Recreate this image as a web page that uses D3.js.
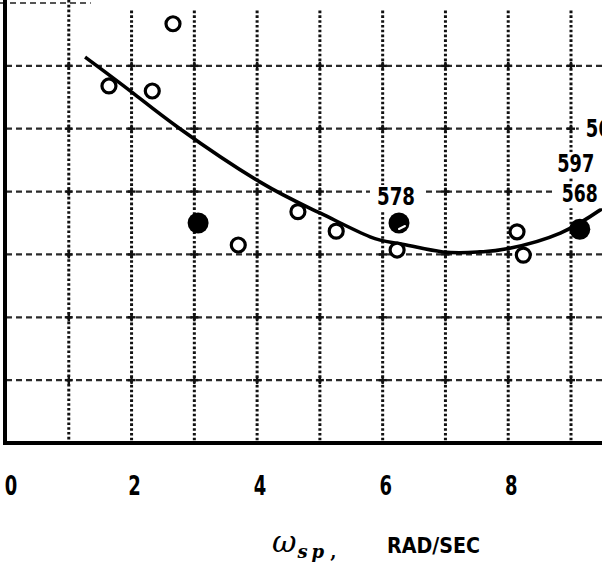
<!DOCTYPE html>
<html>
<head>
<meta charset="utf-8">
<script src="https://cdn.jsdelivr.net/npm/d3@7"></script>
<style>
  html, body { margin: 0; padding: 0; background: #fff; }
  svg { display: block; }
</style>
</head>
<body>
<script>
// ---- data ----
const xTicks = [0, 2, 4, 6, 8];
const xGrid = [1, 2, 3, 4, 5, 6, 7, 8, 9];
const yGrid = [1, 2, 3, 4, 5, 6];
const openX = [1.64, 2.33, 2.66, 3.70, 4.65, 5.26, 6.23, 8.14, 8.24];
const openY = [5.68, 5.60, 6.67, 3.15, 3.68, 3.37, 3.07, 3.36, 2.99];
const filledX = [3.06, 6.26, 9.14];
const filledY = [3.50, 3.50, 3.40];
const curveX = [1.26, 2.02, 2.77, 4.05, 5.00, 5.80, 6.28, 6.96, 7.55, 7.98, 8.83, 9.60];
const curveY = [6.14, 5.57, 5.00, 4.15, 3.66, 3.28, 3.17, 3.04, 3.04, 3.09, 3.34, 3.80];
const labels578 = ["578"];
const labelsLast = ["56", "597", "568"];
const xTitleSymbol = "ω";
const xTitleSub = "sp";
const xTitleUnit = "RAD/SEC";

const W = 602, H = 562;
const x = d3.scaleLinear().domain([0, 9]).range([6, 571]);
const y = d3.scaleLinear().domain([0, 7]).range([443, 3]);

const svg = d3.select("body").append("svg").attr("width", W).attr("height", H);
svg.append("rect").attr("width", W).attr("height", H).attr("fill", "#fff");

const g = svg.append("g");

// horizontal dashed grid
g.selectAll("line.hg").data(yGrid).join("line")
  .attr("x1", x(0)).attr("x2", W)
  .attr("y1", d => y(d)).attr("y2", d => y(d))
  .attr("stroke", "#2a2a2a").attr("stroke-width", 2.2)
  .attr("stroke-dasharray", "6 4");
// partial top line
g.append("line")
  .attr("x1", 0).attr("x2", x(1.35))
  .attr("y1", y(7)).attr("y2", y(7))
  .attr("stroke", "#555").attr("stroke-width", 2)
  .attr("stroke-dasharray", "6 4");

// vertical dotted grid
g.selectAll("line.vg").data(xGrid).join("line")
  .attr("x1", d => x(d)).attr("x2", d => x(d))
  .attr("y1", d => d === 1 ? 0 : y(6.88)).attr("y2", y(0))
  .attr("stroke", "#111").attr("stroke-width", 3)
  .attr("stroke-dasharray", "2.6 2.2");

// crosses at intersections
const inter = [];
xGrid.forEach(a => yGrid.forEach(b => inter.push([a, b])));
const cr = g.selectAll("g.cr").data(inter).join("g")
  .attr("transform", d => `translate(${x(d[0])},${y(d[1])})`);
cr.append("line").attr("x1", -4).attr("x2", 4).attr("stroke", "#111").attr("stroke-width", 2.4);
cr.append("line").attr("y1", -4).attr("y2", 4).attr("stroke", "#111").attr("stroke-width", 2.4);

// axes
g.append("line").attr("x1", 5).attr("x2", 5).attr("y1", 0).attr("y2", y(0) + 2)
  .attr("stroke", "#000").attr("stroke-width", 4);
g.append("line").attr("x1", 3).attr("x2", W).attr("y1", y(0)).attr("y2", y(0))
  .attr("stroke", "#000").attr("stroke-width", 4);

// tick labels
const fontC = "'DejaVu Sans Condensed', 'DejaVu Sans', sans-serif";
g.selectAll("text.tick").data(xTicks).join("text")
  .attr("x", d => x(d) + (d === 0 ? 5 : 3)).attr("y", 495)
  .attr("text-anchor", "middle")
  .attr("font-family", fontC).attr("font-weight", "bold").attr("font-size", 27)
  .attr("textLength", 12.5).attr("lengthAdjust", "spacingAndGlyphs")
  .text(d => d);

// label helper with white backing
function label(txt, cx, base, anchor, len) {
  const t = g.append("text")
    .attr("x", cx).attr("y", base).attr("text-anchor", anchor)
    .attr("font-family", fontC).attr("font-weight", "bold").attr("font-size", 24)
    .attr("textLength", len).attr("lengthAdjust", "spacingAndGlyphs")
    .text(txt);
  const bb = t.node().getBBox();
  g.insert("rect", () => t.node())
    .attr("x", bb.x - 7).attr("y", bb.y + 2).attr("width", bb.width + 14).attr("height", bb.height - 2)
    .attr("fill", "#fff");
}

// curve
const curvePts = curveX.map((v, i) => [v, curveY[i]]);
g.append("path")
  .attr("d", d3.line().x(d => x(d[0])).y(d => y(d[1])).curve(d3.curveNatural)(curvePts))
  .attr("fill", "none").attr("stroke", "#000").attr("stroke-width", 3.6);

// open circles
g.selectAll("circle.op").data(openX.map((v, i) => [v, openY[i]])).join("circle")
  .attr("cx", d => x(d[0])).attr("cy", d => y(d[1])).attr("r", 7)
  .attr("fill", "#fff").attr("stroke", "#000").attr("stroke-width", 3.2);

// filled circles
const fp = filledX.map((v, i) => [v, filledY[i]]);
g.selectAll("circle.fl").data(fp).join("circle")
  .attr("cx", d => x(d[0])).attr("cy", d => y(d[1])).attr("r", 10.5)
  .attr("fill", "#000");
// small white slash on the 578 point
g.append("line")
  .attr("x1", x(fp[1][0]) + 0).attr("y1", y(fp[1][1]) + 6)
  .attr("x2", x(fp[1][0]) + 6).attr("y2", y(fp[1][1]) + 3)
  .attr("stroke", "#fff").attr("stroke-width", 2).attr("stroke-linecap", "round");

// point labels
label(labels578[0], x(fp[1][0]) - 3, y(fp[1][1]) - 18, "middle", 38);
label(labelsLast[0], x(fp[2][0]) + 6, y(fp[2][1]) - 92, "start", 25);
label(labelsLast[1], x(fp[2][0]) - 4, y(fp[2][1]) - 57, "middle", 37);
label(labelsLast[2], x(fp[2][0]), y(fp[2][1]) - 27, "middle", 36);

// x title
const tt = g.append("text").attr("y", 552).attr("font-family", "'DejaVu Serif', serif");
tt.append("tspan").attr("x", 272).attr("font-style", "italic").attr("font-size", 30).text(xTitleSymbol);
tt.append("tspan").attr("dy", 6).attr("dx", 1).attr("font-style", "italic").attr("font-size", 18)
  .attr("font-weight", "bold").attr("letter-spacing", 4).text(xTitleSub);
tt.append("tspan").attr("dx", 2).attr("font-size", 18).attr("font-weight", "bold").text(",");
g.append("text").attr("x", 387).attr("y", 553)
  .attr("font-family", fontC).attr("font-weight", "bold").attr("font-size", 22)
  .attr("textLength", 93).attr("lengthAdjust", "spacingAndGlyphs")
  .text(xTitleUnit);
</script>
</body>
</html>
